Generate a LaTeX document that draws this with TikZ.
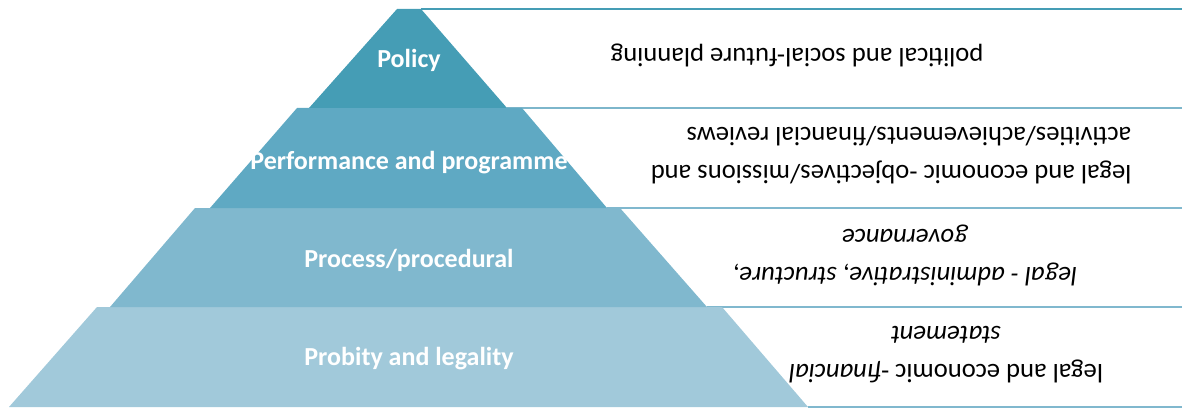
\documentclass[tikz,border=0pt]{standalone}
\usepackage{fontspec}
\setmainfont{Carlito}
\usetikzlibrary{positioning}
\definecolor{tierA}{HTML}{459DB5}
\definecolor{tierB}{HTML}{5FA9C3}
\definecolor{tierC}{HTML}{80B8CE}
\definecolor{tierD}{HTML}{A1C9DA}
\definecolor{ruleB}{HTML}{7DB6CB}

\begin{document}
\begin{tikzpicture}[x=1pt,y=-1pt,
                    tiernode/.style={font=\fontsize{26}{30}\selectfont\bfseries, text=white, inner sep=0pt},
                    notenode/.style={font=\fontsize{26.6}{38}\selectfont, rotate=180, align=center, inner sep=0pt},
                    sepline/.style={line width=2pt},]
    \useasboundingbox (0,0) rectangle (1182,409);
    % corners
    \coordinate (edge1) at (1182,9);
    \coordinate (edge2) at (1182,108);
    \coordinate (edge3) at (1182,208);
    \coordinate (edge4) at (1182,307);
    \coordinate (edge5) at (1182,407);
    \coordinate (corner1) at (421,9);
    \coordinate (corner2) at (507,108);
    \coordinate (corner3) at (607,208);
    \coordinate (corner4) at (707,307);
    \coordinate (corner5) at (808,407);
    % lines
    \draw[sepline, tierA] (corner1) -- (edge1);
    \draw[sepline, ruleB] (corner2) -- (edge2);
    \draw[sepline, tierC] (corner3) -- (edge3);
    \draw[sepline, tierC] (corner4) -- (edge4);
    \draw[sepline, tierC] (corner5) -- (edge5);
    % tiers
    \fill[tierD] (9,407) -- (97,307) -- (722,307) -- (corner5) -- cycle;
    \fill[tierC] (110,307) -- (195,208) -- (620,208) -- (corner4) -- cycle;
    \fill[tierB] (210,208) -- (297,108) -- (522,108) -- (corner3) -- cycle;
    \fill[tierA] (309,108) -- (397,9) -- (corner1) -- (corner2) -- cycle;
    % nodes
    \node[tiernode]      (policy)     at (409,60)                  {Policy};
    \node[tiernode]      (perform)    [below=80pt of policy]       {Performance and programme};
    \node[tiernode]      (process)    at (409,260)                 {Process/procedural};
    \node[tiernode]      (probity)    at (409,359)                 {Probity and legality};
    \node[notenode]      (planning)   at (797,55)                  {political and social-future planning};
    \node[notenode, align=left] (reviews) at (891,155)
        {legal and economic -objectives/missions and\\activities/achievements/financial reviews};
    \node[notenode]      (governance) at (905,255)
        {\itshape legal - administrative, structure,\\\itshape governance};
    \node[notenode]      (statement)  at (946,355)
        {legal and economic -\textit{financial}\\\textit{statement}};
\end{tikzpicture}
\end{document}
